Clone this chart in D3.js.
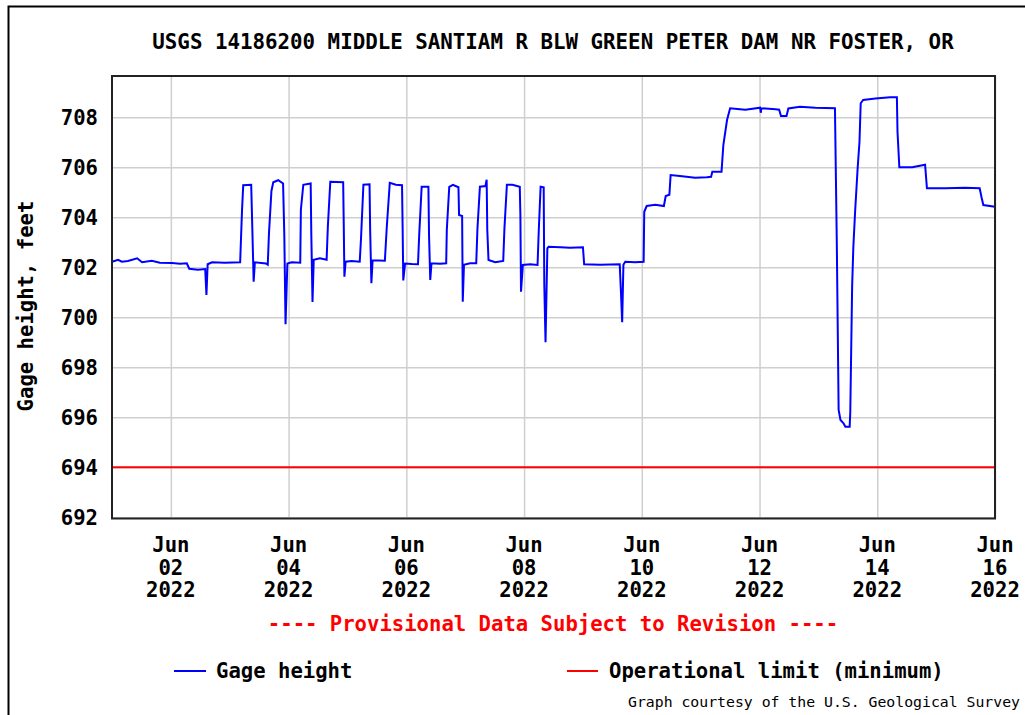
<!DOCTYPE html>
<html>
<head>
<meta charset="utf-8">
<script src="https://cdn.jsdelivr.net/npm/d3@7"></script>
<style>
  html, body { margin: 0; padding: 0; background: #fff; }
  svg { display: block; }
  .lbl { font-family: "DejaVu Sans Mono", "Liberation Mono", monospace; font-weight: bold; font-size: 20.6px; fill: #000; }
  .grid line { stroke: #cfcfcf; stroke-width: 1.5; }
  .grid path { display: none; }
</style>
</head>
<body>
<svg id="chart" width="1025" height="715"></svg>
<script>
// Site et textes
const title = "USGS 14186200 MIDDLE SANTIAM R BLW GREEN PETER DAM NR FOSTER, OR";
const yLabel = "Gage height, feet";
const provisional = "---- Provisional Data Subject to Revision ----";
const credit = "Graph courtesy of the U.S. Geological Survey";

// Graduations
const yTicks = [692, 694, 696, 698, 700, 702, 704, 706, 708];
const xTicks = ["2022-06-02 00:00", "2022-06-04 00:00", "2022-06-06 00:00", "2022-06-08 00:00",
                "2022-06-10 00:00", "2022-06-12 00:00", "2022-06-14 00:00", "2022-06-16 00:00"];
const xTickMonth = ["Jun", "Jun", "Jun", "Jun", "Jun", "Jun", "Jun", "Jun"];
const xTickDay = ["02", "04", "06", "08", "10", "12", "14", "16"];
const xTickYear = ["2022", "2022", "2022", "2022", "2022", "2022", "2022", "2022"];

// Hauteur d'eau
const gageTimes = [
  "2022-06-01 00:00", "2022-06-01 02:30", "2022-06-01 04:00", "2022-06-01 06:30", "2022-06-01 10:15",
  "2022-06-01 12:15", "2022-06-01 16:15", "2022-06-01 19:30", "2022-06-02 00:30", "2022-06-02 03:45",
  "2022-06-02 06:30", "2022-06-02 07:30", "2022-06-02 11:00", "2022-06-02 14:00", "2022-06-02 14:30",
  "2022-06-02 15:00", "2022-06-02 16:45", "2022-06-02 22:00", "2022-06-03 04:15", "2022-06-03 05:00",
  "2022-06-03 05:30", "2022-06-03 08:45", "2022-06-03 09:15", "2022-06-03 09:45", "2022-06-03 10:15",
  "2022-06-03 14:45", "2022-06-03 15:30", "2022-06-03 16:00", "2022-06-03 17:00", "2022-06-03 17:45",
  "2022-06-03 19:45", "2022-06-03 21:45", "2022-06-03 22:15", "2022-06-03 22:45", "2022-06-03 23:30",
  "2022-06-04 01:15", "2022-06-04 04:45", "2022-06-04 05:00", "2022-06-04 06:00", "2022-06-04 09:00",
  "2022-06-04 09:15", "2022-06-04 09:45", "2022-06-04 10:15", "2022-06-04 12:45", "2022-06-04 15:30",
  "2022-06-04 16:00", "2022-06-04 17:00", "2022-06-04 22:15", "2022-06-04 22:30", "2022-06-04 22:45",
  "2022-06-04 23:15", "2022-06-05 01:45", "2022-06-05 05:00", "2022-06-05 05:30", "2022-06-05 06:30",
  "2022-06-05 09:00", "2022-06-05 09:15", "2022-06-05 09:45", "2022-06-05 10:15", "2022-06-05 15:15",
  "2022-06-05 16:00", "2022-06-05 17:15", "2022-06-05 19:45", "2022-06-05 22:15", "2022-06-05 22:30",
  "2022-06-05 22:45", "2022-06-05 23:30", "2022-06-06 02:15", "2022-06-06 04:45", "2022-06-06 05:15",
  "2022-06-06 06:15", "2022-06-06 09:00", "2022-06-06 09:15", "2022-06-06 09:45", "2022-06-06 10:15",
  "2022-06-06 13:45", "2022-06-06 16:15", "2022-06-06 16:30", "2022-06-06 17:30", "2022-06-06 19:00",
  "2022-06-06 21:15", "2022-06-06 21:30", "2022-06-06 22:45", "2022-06-06 23:00", "2022-06-06 23:30",
  "2022-06-07 02:00", "2022-06-07 04:30", "2022-06-07 05:00", "2022-06-07 06:00", "2022-06-07 08:15",
  "2022-06-07 08:45", "2022-06-07 09:00", "2022-06-07 09:30", "2022-06-07 12:15", "2022-06-07 15:30",
  "2022-06-07 16:00", "2022-06-07 17:00", "2022-06-07 19:15", "2022-06-07 22:15", "2022-06-07 22:30",
  "2022-06-07 22:45", "2022-06-07 23:30", "2022-06-08 02:30", "2022-06-08 05:30", "2022-06-08 06:00",
  "2022-06-08 06:45", "2022-06-08 08:00", "2022-06-08 08:15", "2022-06-08 08:45", "2022-06-08 09:30",
  "2022-06-08 10:00", "2022-06-08 14:45", "2022-06-08 18:45", "2022-06-09 00:00", "2022-06-09 00:30",
  "2022-06-09 07:00", "2022-06-09 15:00", "2022-06-09 15:30", "2022-06-09 16:00", "2022-06-09 16:30",
  "2022-06-09 17:15", "2022-06-09 21:15", "2022-06-10 00:45", "2022-06-10 01:00", "2022-06-10 02:00",
  "2022-06-10 05:30", "2022-06-10 09:00", "2022-06-10 09:45", "2022-06-10 11:15", "2022-06-10 11:45",
  "2022-06-10 15:30", "2022-06-10 21:45", "2022-06-11 02:30", "2022-06-11 04:15", "2022-06-11 04:45",
  "2022-06-11 08:30", "2022-06-11 09:15", "2022-06-11 10:45", "2022-06-11 12:00", "2022-06-11 16:00",
  "2022-06-11 18:15", "2022-06-12 00:15", "2022-06-12 00:30", "2022-06-12 00:45", "2022-06-12 06:30",
  "2022-06-12 08:00", "2022-06-12 08:45", "2022-06-12 11:00", "2022-06-12 11:45", "2022-06-12 16:30",
  "2022-06-12 22:45", "2022-06-13 06:45", "2022-06-13 07:30", "2022-06-13 08:15", "2022-06-13 09:00",
  "2022-06-13 10:15", "2022-06-13 11:00", "2022-06-13 12:45", "2022-06-13 13:00", "2022-06-13 13:45",
  "2022-06-13 14:15", "2022-06-13 15:00", "2022-06-13 16:00", "2022-06-13 16:45", "2022-06-13 17:15",
  "2022-06-13 18:15", "2022-06-13 23:15", "2022-06-14 05:15", "2022-06-14 08:00", "2022-06-14 08:15",
  "2022-06-14 09:00", "2022-06-14 14:15", "2022-06-14 19:30", "2022-06-14 20:15", "2022-06-15 03:45",
  "2022-06-15 11:45", "2022-06-15 17:45", "2022-06-15 18:30", "2022-06-15 19:15", "2022-06-16 00:00"
];
const gageHeights = [
  702.22, 702.30, 702.22, 702.25, 702.36,
  702.20, 702.26, 702.18, 702.17, 702.14,
  702.16, 701.94, 701.90, 701.93, 700.89,
  702.12, 702.20, 702.18, 702.20, 704.25,
  705.28, 705.30, 703.40, 701.42, 702.20,
  702.15, 702.10, 703.36, 705.05, 705.40,
  705.48, 705.35, 703.30, 699.72, 702.15,
  702.20, 702.18, 704.30, 705.30, 705.35,
  703.36, 700.61, 702.30, 702.36, 702.30,
  703.62, 705.42, 705.40, 703.60, 701.62,
  702.22, 702.25, 702.22, 703.10, 705.30,
  705.32, 703.50, 701.36, 702.28, 702.26,
  703.56, 705.38, 705.30, 705.28, 703.50,
  701.47, 702.15, 702.13, 702.12, 703.30,
  705.22, 705.22, 703.30, 701.49, 702.16,
  702.14, 702.16, 703.49, 705.22, 705.30,
  705.20, 704.09, 704.05, 700.62, 702.10,
  702.16, 702.16, 703.56, 705.22, 705.25,
  705.50, 703.50, 702.29, 702.20, 702.25,
  703.56, 705.30, 705.30, 705.22, 704.09,
  701.02, 702.09, 702.12, 702.09, 703.49,
  705.22, 705.20, 701.29, 699.00, 702.76,
  702.82, 702.80, 702.78, 702.80, 702.12,
  702.10, 702.12, 701.00, 699.80, 702.10,
  702.22, 702.20, 702.22, 704.22, 704.45,
  704.50, 704.45, 704.85, 704.90, 705.69,
  705.65, 705.58, 705.60, 705.62, 705.82,
  705.82, 706.89, 707.89, 708.36, 708.32,
  708.30, 708.38, 708.18, 708.36, 708.32,
  708.30, 708.05, 708.05, 708.35, 708.42,
  708.38, 708.36, 703.00, 696.29, 695.89,
  695.76, 695.62, 695.62, 696.22, 701.22,
  702.82, 704.29, 705.96, 707.02, 708.56,
  708.69, 708.75, 708.80, 708.80, 707.42,
  706.00, 706.00, 706.10, 705.16, 705.16,
  705.18, 705.16, 704.80, 704.49, 704.42
];

// Limite opérationnelle (minimum)
const limitTimes = ["2022-06-01 00:00", "2022-06-16 00:00"];
const limitValues = [694, 694];

const parseTime = d3.timeParse("%Y-%m-%d %H:%M");
const gage = gageTimes.map((t, i) => ({ t: parseTime(t), v: gageHeights[i] }));
const limit = limitTimes.map((t, i) => ({ t: parseTime(t), v: limitValues[i] }));

const svg = d3.select("#chart");
const margin = { top: 76, left: 112, right: 30, bottom: 196.5 };
const width = 1025 - margin.left - margin.right;
const height = 715 - margin.top - margin.bottom;

// Cadre extérieur
svg.append("rect")
    .attr("x", 8.5).attr("y", 6.5)
    .attr("width", 1030).attr("height", 720)
    .attr("fill", "none").attr("stroke", "#000").attr("stroke-width", 2);

svg.append("text")
    .attr("class", "lbl")
    .attr("x", 553).attr("y", 49)
    .attr("text-anchor", "middle")
    .style("font-size", "20.8px")
    .text(title);

const g = svg.append("g").attr("transform", `translate(${margin.left},${margin.top})`);

const x = d3.scaleTime()
    .domain([parseTime("2022-06-01 00:00"), parseTime("2022-06-16 00:00")])
    .range([0, width]);

const y = d3.scaleLinear()
    .domain([691.95, 709.65])
    .range([height, 0]);

// Grille horizontale + étiquettes de l'axe Y
const yAxis = g.append("g")
    .attr("class", "grid")
    .call(d3.axisLeft(y).tickValues(yTicks).tickSize(-width).tickPadding(14).tickFormat(d3.format("d")));
yAxis.selectAll("text")
    .attr("class", "lbl")
    .attr("dy", null)
    .attr("y", 7);

// Grille verticale
const xDates = xTicks.map(parseTime);
g.append("g")
    .attr("class", "grid")
    .attr("transform", `translate(0,${height})`)
    .call(d3.axisBottom(x).tickValues(xDates).tickSize(-height).tickFormat(""));

// Étiquettes de l'axe X sur trois lignes
const xLabels = g.append("g").selectAll("text")
    .data(xDates)
    .enter()
    .append("text")
    .attr("class", "lbl")
    .attr("text-anchor", "middle")
    .attr("transform", (d) => `translate(${x(d)},${height + 33.5})`);
xLabels.append("tspan").attr("x", 0).attr("y", 0).text((d, i) => xTickMonth[i]);
xLabels.append("tspan").attr("x", 0).attr("y", 22.5).text((d, i) => xTickDay[i]);
xLabels.append("tspan").attr("x", 0).attr("y", 45).text((d, i) => xTickYear[i]);

// Séries
const line = d3.line()
    .x((d) => x(d.t))
    .y((d) => y(d.v));

g.append("path")
    .datum(limit)
    .attr("fill", "none")
    .attr("stroke", "#ff0000")
    .attr("stroke-width", 2)
    .attr("d", line);

g.append("path")
    .datum(gage)
    .attr("fill", "none")
    .attr("stroke", "#0000ff")
    .attr("stroke-width", 2)
    .attr("d", line);

// Cadre du graphique
g.append("rect")
    .attr("x", 0).attr("y", 0)
    .attr("width", width).attr("height", height)
    .attr("fill", "none").attr("stroke", "#222").attr("stroke-width", 2);

// Titre de l'axe Y
svg.append("text")
    .attr("class", "lbl")
    .attr("text-anchor", "middle")
    .attr("transform", "translate(33,306) rotate(-90)")
    .text(yLabel);

svg.append("text")
    .attr("class", "lbl")
    .attr("x", 553).attr("y", 631)
    .attr("text-anchor", "middle")
    .style("fill", "#ff0000")
    .text(provisional);

// Légende
const legend = [
    { name: "Gage height", color: "#0000ff", x1: 174, x2: 206, tx: 216 },
    { name: "Operational limit (minimum)", color: "#ff0000", x1: 567, x2: 598, tx: 609 }
];
legend.forEach((l) => {
    svg.append("line")
        .attr("x1", l.x1).attr("x2", l.x2)
        .attr("y1", 671).attr("y2", 671)
        .attr("stroke", l.color).attr("stroke-width", 2);
    svg.append("text")
        .attr("class", "lbl")
        .attr("x", l.tx).attr("y", 678)
        .text(l.name);
});

svg.append("text")
    .attr("x", 628).attr("y", 707)
    .attr("font-family", "DejaVu Sans Mono, monospace")
    .attr("font-size", "14.8px")
    .attr("fill", "#000")
    .text(credit);
</script>
</body>
</html>
